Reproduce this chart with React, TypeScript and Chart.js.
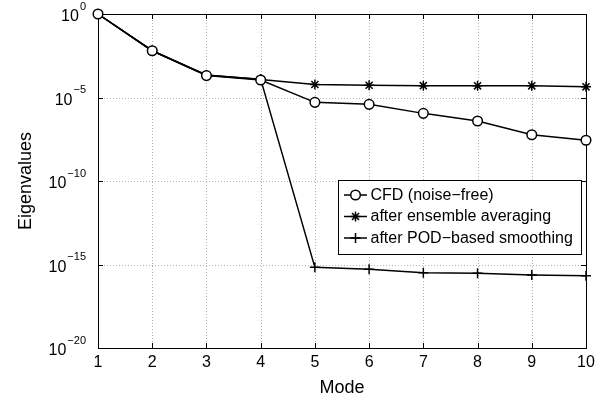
import React, { useEffect, useRef } from 'react';
import { Chart, registerables } from 'chart.js';

Chart.register(...registerables);

const modes = [1, 2, 3, 4, 5, 6, 7, 8, 9, 10];
const cfdExp = [0, -2.2, -3.69, -3.95, -5.29, -5.41, -5.95, -6.41, -7.23, -7.56];
const ensembleExp = [0, -2.2, -3.65, -3.92, -4.22, -4.27, -4.29, -4.3, -4.3, -4.36];
const podExp = [0, -2.2, -3.67, -3.9, -15.17, -15.29, -15.49, -15.53, -15.63, -15.67];
const yTickExps = [0, -5, -10, -15, -20];
const seriesNames = ['CFD (noise\u2212free)', 'after ensemble averaging', 'after POD\u2212based smoothing'];
const seriesStyles = ['circle', 'star', 'cross'];
const xTitle = 'Mode';
const yTitle = 'Eigenvalues';

const FONT = '"Liberation Sans", Arial, Helvetica, sans-serif';

function drawMarker(ctx: CanvasRenderingContext2D, style: string, x: number, y: number) {
  ctx.save();
  ctx.strokeStyle = '#000';
  ctx.lineWidth = 1.5;
  ctx.beginPath();
  if (style === 'circle') {
    ctx.fillStyle = '#fff';
    ctx.arc(x, y, 4.8, 0, Math.PI * 2);
    ctx.fill();
    ctx.stroke();
  } else if (style === 'star') {
    const r = 5;
    ctx.moveTo(x - r, y); ctx.lineTo(x + r, y);
    ctx.moveTo(x, y - r); ctx.lineTo(x, y + r);
    const d = r * 0.707;
    ctx.moveTo(x - d, y - d); ctx.lineTo(x + d, y + d);
    ctx.moveTo(x - d, y + d); ctx.lineTo(x + d, y - d);
    ctx.stroke();
  } else {
    const r = 5;
    ctx.moveTo(x - r, y); ctx.lineTo(x + r, y);
    ctx.moveTo(x, y - r); ctx.lineTo(x, y + r);
    ctx.stroke();
  }
  ctx.restore();
}

const decorPlugin = {
  id: 'decor',
  beforeDatasetsDraw(chart: any) {
    const { ctx, chartArea: a, scales } = chart;
    const xs = scales.x, ys = scales.y;
    ctx.save();
    ctx.strokeStyle = '#b4b4b4';
    ctx.lineWidth = 1;
    ctx.setLineDash([1, 2]);
    modes.forEach((m) => {
      const px = Math.round(xs.getPixelForValue(m)) + 0.5;
      ctx.beginPath(); ctx.moveTo(px, a.top); ctx.lineTo(px, a.bottom); ctx.stroke();
    });
    yTickExps.forEach((e) => {
      const py = Math.round(ys.getPixelForValue(Math.pow(10, e))) + 0.5;
      ctx.beginPath(); ctx.moveTo(a.left, py); ctx.lineTo(a.right, py); ctx.stroke();
    });
    ctx.setLineDash([]);
    // box
    ctx.strokeStyle = '#000';
    ctx.lineWidth = 1;
    ctx.strokeRect(Math.round(a.left) + 0.5, Math.round(a.top) + 0.5, Math.round(a.right - a.left), Math.round(a.bottom - a.top));
    // tick marks inside
    const tl = 5;
    modes.forEach((m) => {
      const px = Math.round(xs.getPixelForValue(m)) + 0.5;
      ctx.beginPath();
      ctx.moveTo(px, a.bottom); ctx.lineTo(px, a.bottom - tl);
      ctx.moveTo(px, a.top); ctx.lineTo(px, a.top + tl);
      ctx.stroke();
    });
    yTickExps.forEach((e) => {
      const py = Math.round(ys.getPixelForValue(Math.pow(10, e))) + 0.5;
      ctx.beginPath();
      ctx.moveTo(a.left, py); ctx.lineTo(a.left + tl, py);
      ctx.moveTo(a.right, py); ctx.lineTo(a.right - tl, py);
      ctx.stroke();
    });
    ctx.restore();
  },
  afterDatasetsDraw(chart: any) {
    const { ctx, chartArea: a, scales } = chart;
    const ys = scales.y;
    ctx.save();
    ctx.fillStyle = '#000';
    // y tick labels 10^e
    yTickExps.forEach((e) => {
      const py = ys.getPixelForValue(Math.pow(10, e));
      const expText = e === 0 ? '0' : '\u2212' + Math.abs(e);
      ctx.font = `11px ${FONT}`;
      const ew = ctx.measureText(expText).width;
      const right = a.left - 12;
      ctx.textAlign = 'left';
      ctx.textBaseline = 'alphabetic';
      ctx.fillText(expText, right - ew, py - 4.5);
      ctx.font = `16px ${FONT}`;
      ctx.textAlign = 'right';
      ctx.fillText('10', right - ew - 1, py + 7);
    });
    // axis titles
    ctx.font = `18px ${FONT}`;
    ctx.textAlign = 'center';
    ctx.textBaseline = 'middle';
    ctx.fillText(xTitle, (a.left + a.right) / 2, 388);
    ctx.save();
    ctx.translate(26, (a.top + a.bottom) / 2);
    ctx.rotate(-Math.PI / 2);
    ctx.fillText(yTitle, 0, 0);
    ctx.restore();
    // legend
    const bx = 338.5, by = 180.5, bw = 243, bh = 74;
    ctx.fillStyle = '#fff';
    ctx.fillRect(bx, by, bw, bh);
    ctx.strokeStyle = '#000';
    ctx.lineWidth = 1;
    ctx.strokeRect(bx, by, bw, bh);
    const rows = [195, 216.5, 238];
    seriesNames.forEach((name, i) => {
      const y = rows[i];
      ctx.strokeStyle = '#000';
      ctx.lineWidth = 1.5;
      ctx.beginPath(); ctx.moveTo(344, y); ctx.lineTo(367, y); ctx.stroke();
      drawMarker(ctx, seriesStyles[i], 355.5, y);
      ctx.fillStyle = '#000';
      ctx.font = `16px ${FONT}`;
      ctx.textAlign = 'left';
      ctx.textBaseline = 'middle';
      ctx.fillText(name, 370.5, y + 0.5);
    });
    ctx.restore();
  },
};

export default function App() {
  const ref = useRef<HTMLCanvasElement>(null);
  useEffect(() => {
    document.body.style.margin = '0';
    const mk = (exps: number[]) => modes.map((m, i) => ({ x: m, y: Math.pow(10, exps[i]) }));
    const base = {
      borderColor: '#000',
      borderWidth: 1.5,
      pointBorderColor: '#000',
      pointBorderWidth: 1.5,
      clip: false as any,
      tension: 0,
    };
    const chart = new Chart(ref.current as HTMLCanvasElement, {
      type: 'line',
      data: {
        datasets: [
          { ...base, label: seriesNames[0], data: mk(cfdExp), pointStyle: 'circle', pointRadius: 4.8, pointBackgroundColor: '#fff' },
          { ...base, label: seriesNames[1], data: mk(ensembleExp), pointStyle: 'star', pointRadius: 5, pointBackgroundColor: '#000' },
          { ...base, label: seriesNames[2], data: mk(podExp), pointStyle: 'cross', pointRadius: 5, pointBackgroundColor: '#000' },
        ],
      },
      options: {
        responsive: false,
        animation: false,
        events: [],
        layout: { padding: { top: 14, right: 24, left: 0, bottom: 0 } },
        plugins: { legend: { display: false }, tooltip: { enabled: false } },
        scales: {
          x: {
            type: 'linear',
            min: 1,
            max: 10,
            afterBuildTicks: (s: any) => { s.ticks = modes.map((m) => ({ value: m })); },
            afterFit: (s: any) => { s.height = 52; },
            ticks: { font: { size: 16, family: FONT }, color: '#000', padding: 5, maxRotation: 0, autoSkip: false },
            grid: { display: false, drawTicks: false },
            border: { display: false },
          },
          y: {
            type: 'logarithmic',
            min: 1e-20,
            max: 1,
            afterBuildTicks: (s: any) => { s.ticks = yTickExps.map((e) => ({ value: Math.pow(10, e) })); },
            afterFit: (s: any) => { s.width = 98; },
            ticks: { display: false },
            grid: { display: false, drawTicks: false },
            border: { display: false },
          },
        },
      },
      plugins: [decorPlugin],
    });
    return () => chart.destroy();
  }, []);
  return <canvas ref={ref} width={610} height={400} style={{ display: 'block' }} />;
}
